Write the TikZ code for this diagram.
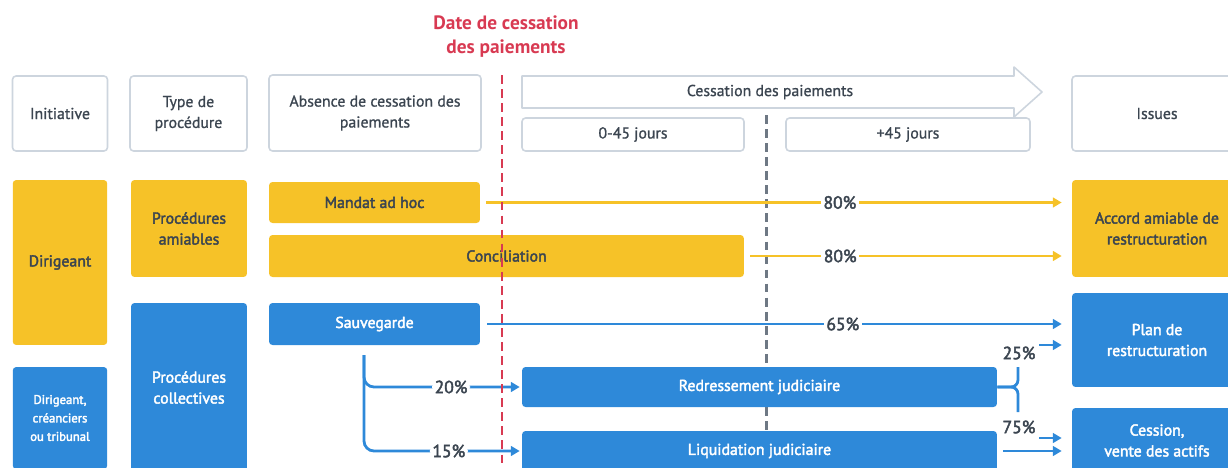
\documentclass[tikz,border=0pt]{standalone}
\usepackage{fontspec}
\setmainfont{PT Sans}
\newfontfamily\moyen{PT Sans}[FakeBold=2.5]
\newfontfamily\leger{PT Sans}[FakeBold=1]
\usetikzlibrary{arrows.meta,positioning}

\definecolor{jaune}{HTML}{F6C228}
\definecolor{bleu}{HTML}{2E89D9}
\definecolor{cadre}{HTML}{CDD5DE}
\definecolor{texte}{HTML}{3B4550}
\definecolor{rouge}{HTML}{D83A52}
\definecolor{gris}{HTML}{6E7884}

\tikzset{
  entete/.style={draw=cadre, line width=0.9pt, fill=white, rounded corners=2pt, text=texte, align=center, inner sep=0pt, font=\leger\fontsize{9}{11.9}\selectfont},
  boitej/.style={fill=jaune, rounded corners=2pt, text=texte, align=center, inner sep=0pt, font=\moyen\fontsize{9}{11.9}\selectfont},
  boiteb/.style={fill=bleu, rounded corners=2pt, text=white, align=center, inner sep=0pt, font=\moyen\fontsize{9}{11.9}\selectfont},
  fj/.style={draw=jaune, line width=1.6pt, -{Triangle[length=5pt,width=5.5pt]}},
  fb/.style={draw=bleu, line width=1.6pt, -{Triangle[length=5pt,width=5.5pt]}},
  pct/.style={fill=white, text=texte, inner sep=1.5pt, font=\moyen\fontsize{10}{10}\selectfont},
  tiret/.style={line width=1.7pt, dash pattern=on 5pt off 3pt}
}

\begin{document}
\begin{tikzpicture}[x=0.02cm, y=-0.02cm, font=\fontsize{9}{11.9}\selectfont]
          \useasboundingbox (0,0) rectangle (1228,467);
          \clip (0,0) rectangle (1228,467);

          \node[text=rouge, font=\bfseries\fontsize{11}{13.6}\selectfont, align=center] (datecp) at (506,37) {Date de cessation\\des paiements};

          \node[entete, minimum width=1.9cm, minimum height=1.5cm] (initiative) at (60,113.5) {Initiative};
          \node[entete, minimum width=2.34cm, minimum height=1.5cm] (type) at (188.5,113.5) {Type de\\procédure};
          \node[entete, minimum width=4.24cm, minimum height=1.52cm] (absence) at (375,113) {Absence de cessation des\\paiements};
          \draw[draw=cadre, line width=0.9pt, fill=white, line join=round] (522,76) -- (1014,76) -- (1014,67) -- (1042,92) -- (1014,117) -- (1014,108) -- (522,108) -- cycle;
          \node[text=texte, font=\leger\fontsize{9}{11.9}\selectfont] (cessation) at (770,92) {Cessation des paiements};
          \node[entete, minimum width=4.44cm, minimum height=0.66cm] (jours) at (633,134.5) {0-45 jours};
          \node[entete, minimum width=4.88cm, minimum height=0.66cm] (plusjours) at (908,134.5) {+45 jours};
          \node[entete, minimum width=3.4cm, minimum height=1.5cm] (issues) at (1157,113.5) {Issues};

          \draw[gris, tiret] (766,115) -- (766,367);
          \draw[gris, tiret] (766,407) -- (766,431);

          \node[boitej, minimum width=1.89cm, minimum height=3.3cm] (dirigeant) at (60,262.5) {Dirigeant};
          \node[boitej, minimum width=2.32cm, minimum height=1.94cm] (amiables) at (189,228.5) {Procédures\\amiables};
          \node[boitej, minimum width=4.22cm, minimum height=0.82cm] (mandat) at (374.5,202.5) {Mandat ad hoc};
          \node[boitej, minimum width=9.5cm, minimum height=0.84cm] (concil) at (506.5,256) {Conciliation};
          \node[boitej, minimum width=3.4cm, minimum height=1.94cm] (accord) at (1157,228.5) {Accord amiable de\\restructuration};

          \node[boiteb, minimum width=1.89cm, minimum height=2.04cm, font=\moyen\fontsize{7.2}{10.5}\selectfont] (tous) at (60,418) {Dirigeant,\\créanciers\\ou tribunal};
          \node[boiteb, minimum width=2.32cm, minimum height=3.38cm] (collectives) at (189,387.5) {Procédures\\collectives};
          \node[boiteb, minimum width=4.22cm, minimum height=0.84cm] (sauv) at (374.5,324) {Sauvegarde};
          \node[boiteb, minimum width=9.5cm, minimum height=0.8cm] (redr) at (759.5,387) {Redressement judiciaire};
          \node[boiteb, minimum width=9.5cm, minimum height=0.8cm] (liqu) at (759.5,451) {Liquidation judiciaire};
          \node[boiteb, minimum width=3.4cm, minimum height=1.88cm] (plan) at (1157,340) {Plan de\\restructuration};
          \node[boiteb, minimum width=3.4cm, minimum height=1.3cm] (vente) at (1157,440.5) {Cession,\\vente des actifs};

          \draw[fj, shorten <=0.12cm, shorten >=0.2cm] (mandat.east) to node[pct, pos=0.608]{80\%} (mandat.east -| accord.west);
          \draw[fj, shorten <=0.12cm, shorten >=0.2cm] (concil.east) to node[pct, pos=0.293]{80\%} (concil.east -| accord.west);
          \draw[fb, shorten <=0.14cm, shorten >=0.2cm] (sauv.east) to node[pct, pos=0.613]{65\%} (sauv.east -| plan.west);

          \coordinate (fourche) at (364,355);
          \draw[fb, rounded corners=0.2cm, shorten >=0.04cm] (fourche) |- node[pct, pos=0.776]{20\%} (redr.west);
          \draw[fb, rounded corners=0.2cm, shorten >=0.04cm] (fourche) |- node[pct, pos=0.769]{15\%} (liqu.west);

          \coordinate (ahaut) at (1018,367);
          \coordinate (abas) at (1018,412);
          \draw[bleu, line width=1.6pt, rounded corners=0.14cm] (ahaut) |- (redr.east);
          \draw[bleu, line width=1.6pt, rounded corners=0.14cm] (redr.east) -| (abas);
          \node[pct] (p25) at (1019,353) {25\%};
          \node[pct] (p75) at (1019,427) {75\%};
          \coordinate (d25) at (1039,345);
          \coordinate (d75) at (1039,438);
          \draw[fb, shorten >=0.2cm] (d25) -- (d25 -| plan.west);
          \draw[fb, shorten >=0.2cm] (d75) -- (d75 -| vente.west);
          \draw[fb, shorten <=0.12cm, shorten >=0.2cm] (liqu.east) -- (liqu.east -| vente.west);

          \draw[rouge, tiret] (502,75) -- (502,467);
         \end{tikzpicture}
\end{document}
